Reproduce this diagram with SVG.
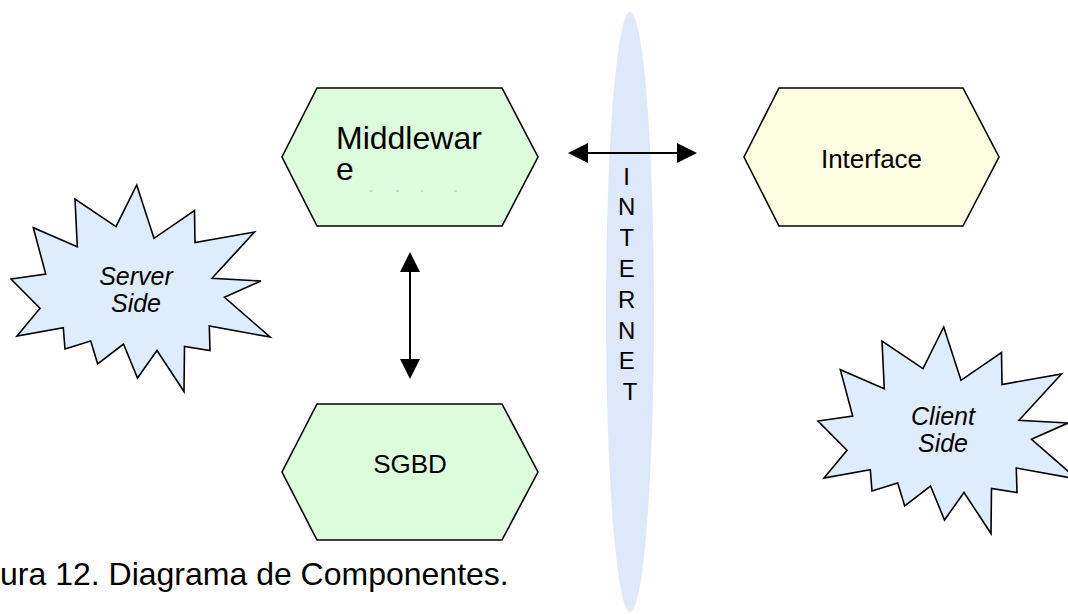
<svg xmlns="http://www.w3.org/2000/svg" width="1068" height="614" viewBox="0 0 1068 614">
  <style>
    .hexg { fill: #dcfcdc; stroke: #000; stroke-width: 1.6; stroke-linejoin: miter; }
    .hexy { fill: #fefee2; stroke: #000; stroke-width: 1.6; }
    .star { fill: #deedfd; stroke: #000; stroke-width: 1.6; stroke-linejoin: miter; }
    .lbl { font-family: "Liberation Sans", Arial, sans-serif; fill: #000; }
    .ital { font-family: "Liberation Sans", Arial, sans-serif; font-style: italic; font-size: 25px; text-anchor: middle; fill: #000; }
    .conn { stroke: #000; stroke-width: 2; fill: none; }
  </style>
  <defs>
    <marker id="ah" viewBox="0 0 20 20" refX="0" refY="10" markerWidth="20" markerHeight="20" markerUnits="userSpaceOnUse" orient="auto-start-reverse">
      <path d="M0,0 L20,10 L0,20 z" fill="#000"/>
    </marker>
    <polygon id="starShape" points="136.7,185 154,238.3 194.5,210.5 195,242.5 254.5,232 212,278.3 261,281 224.5,297.3 270,337 209.3,326 210,350.5 184.5,346.5 184,391.5 157,350.5 137.5,378 123.5,344 97.7,364 90.7,341 65,349 63.3,327.7 17,336 40,308.3 11,279 45.7,274 33.3,227.7 77.3,246.7 75,199 116,226.7"/>
  </defs>
  <rect width="1068" height="614" fill="#fff"/>

  <g id="internet">
    <ellipse cx="630" cy="312" rx="24" ry="300" fill="#dde9fb"/>
    <text class="lbl" font-size="24" text-anchor="middle">
      <tspan x="630" y="184.5">I</tspan>
      <tspan x="630" y="215.3">N</tspan>
      <tspan x="630" y="246.1">T</tspan>
      <tspan x="630" y="276.9">E</tspan>
      <tspan x="630" y="307.7">R</tspan>
      <tspan x="630" y="338.5">N</tspan>
      <tspan x="630" y="369.3">E</tspan>
      <tspan x="630" y="400.1">T</tspan>
    </text>
  </g>

  <g id="middleware">
    <polygon class="hexg" points="317,88 502,88 538,157 502,226 317,226 282,157"/>
    <text class="lbl" font-size="32">
      <tspan x="336" y="148.5">Middlewar</tspan>
      <tspan x="336" y="179.5">e</tspan>
    </text>
    <g fill="#b0b0b0">
      <rect x="369.5" y="190.5" width="3" height="1"/>
      <rect x="396" y="190.5" width="3" height="1"/>
      <rect x="421" y="190.5" width="2" height="1"/>
      <rect x="454" y="190.5" width="3" height="1"/>
    </g>
  </g>

  <g id="interface">
    <polygon class="hexy" points="779,88 963,88 999,157 963,226 779,226 744,157"/>
    <text class="lbl" font-size="26" text-anchor="middle" x="871.5" y="168">Interface</text>
  </g>

  <g id="sgbd">
    <polygon class="hexg" points="317,404 502,404 538,472 502,540 317,540 282,472"/>
    <text class="lbl" font-size="26" text-anchor="middle" x="410" y="473">SGBD</text>
  </g>

  <g id="server-side">
    <use href="#starShape" class="star"/>
    <text class="ital"><tspan x="136" y="284.5">Server</tspan><tspan x="136" y="312">Side</tspan></text>
  </g>

  <g id="client-side">
    <use href="#starShape" class="star" transform="translate(807,142)"/>
    <text class="ital"><tspan x="943" y="424.5">Client</tspan><tspan x="943" y="452">Side</tspan></text>
  </g>

  <g id="connectors">
    <line class="conn" x1="588" y1="153" x2="677" y2="153" marker-start="url(#ah)" marker-end="url(#ah)"/>
    <line class="conn" x1="410" y1="272" x2="410" y2="359" marker-start="url(#ah)" marker-end="url(#ah)"/>
  </g>

  <text id="caption" class="lbl" font-size="32" x="0" y="585">ura 12. Diagrama de Componentes.</text>
</svg>
